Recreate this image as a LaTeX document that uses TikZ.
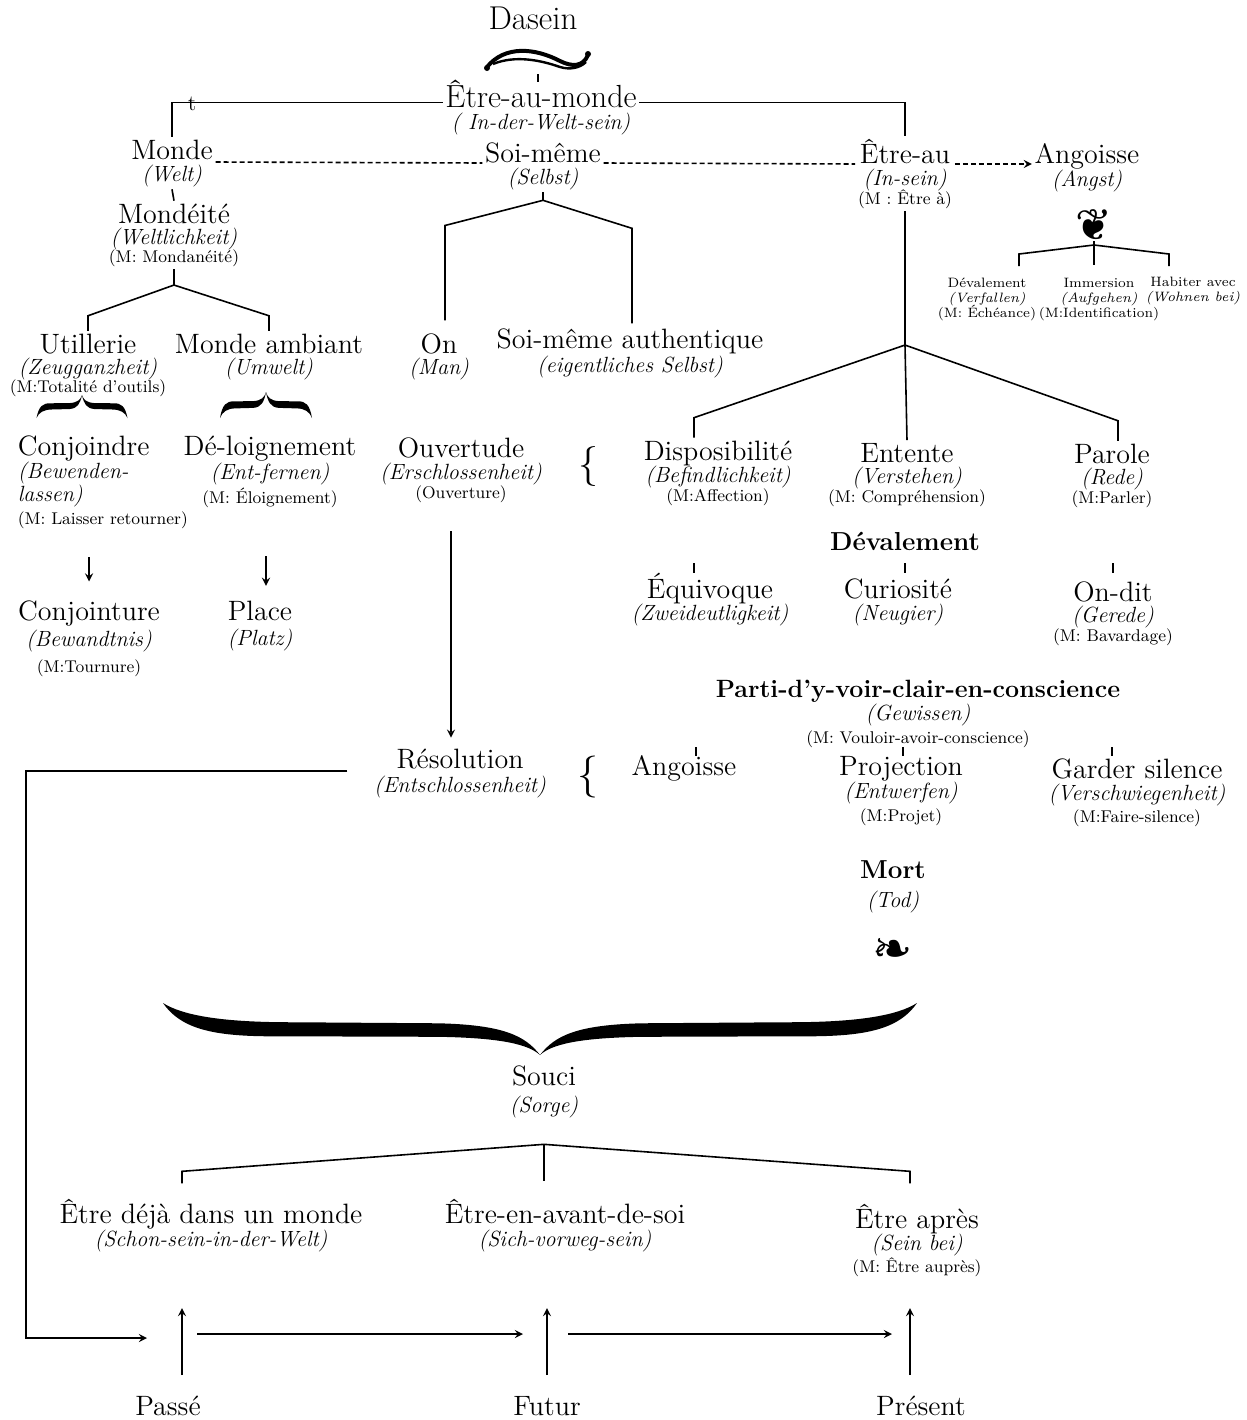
\documentclass[tikz,border=0pt]{standalone}
\usepackage{fontspec}
\newfontfamily\ornfont{DejaVu Sans}
\newcommand{\de}[1]{{\normalfont\fontsize{11}{11}\selectfont\itshape(#1)}}
\newcommand{\dex}[1]{{\normalfont\fontsize{11}{11}\selectfont\itshape #1}}
\newcommand{\mt}[1]{{\normalfont\fontsize{8.5}{8.5}\selectfont(#1)}}
\setlength{\lineskiplimit}{-20pt}
\tikzset{ornbrace/.pic={
  \fill (-1,0) .. controls (-0.95,0.52) and (-0.86,0.65) .. (-0.69,0.64) -- (-0.27,0.65) .. controls (-0.1,0.67) and (-0.03,0.8) .. (0,1) .. controls (-0.04,0.62) and (-0.1,0.42) .. (-0.27,0.39) -- (-0.66,0.37) .. controls (-0.85,0.37) and (-0.95,0.23) .. (-1,0) -- cycle;
  \fill (1,0) .. controls (0.95,0.52) and (0.86,0.65) .. (0.69,0.64) -- (0.27,0.65) .. controls (0.1,0.67) and (0.03,0.8) .. (0,1) .. controls (0.04,0.62) and (0.1,0.42) .. (0.27,0.39) -- (0.66,0.37) .. controls (0.85,0.37) and (0.95,0.23) .. (1,0) -- cycle;
}}

\begin{document}
\begin{tikzpicture}[x=0.5pt,y=-0.5pt,line width=0.8pt,
	every node/.style={inner sep=1pt},
	con/.style={align=center,anchor=base,font=\fontsize{14}{#1}\selectfont},
	con/.default=10,
	hd/.style={align=center,anchor=base,font=\bfseries\fontsize{13}{#1}\selectfont},
	hd/.default=11,
	sm/.style={align=center,anchor=base,font=\fontsize{6.8}{7.5}\selectfont},
	dashline/.style={dash pattern=on 2.5pt off 1.5pt}]
	\useasboundingbox (0,0) rectangle (1247,1420);

	\node[con,font=\fontsize{16.5}{16}\selectfont] (dasein) at (533,29) {Dasein};
	\draw[line width=2pt] (487,67) .. controls (505,45) and (535,48) .. (560,61) .. controls (572,67) and (583,67) .. (588,55);
	\draw[line width=1.2pt] (493,64) .. controls (515,55) and (540,60) .. (560,67) .. controls (570,70) and (580,68) .. (586,62);
	\fill (487,68) circle (3) (588,54) circle (3);
	\coordinate (sw) at (538,74);

	\node[con,font=\fontsize{16}{11}\selectfont] (iwm) at (541,129) {Être-au-monde\\\de{ In-der-Welt-sein}};
	\node[con,font=\fontsize{11}{11}\selectfont] (t) at (192,110) {t};
	\node[con=11] (monde) at (172,181) {Monde\\\de{Welt}};
	\node[con=11] (soi) at (543,184) {Soi-même\\\de{Selbst}};
	\node[con=11] (etreau) at (905,204) {Être-au\\\de{In-sein}\\[-1.5pt]\mt{M : Être à}};
	\node[con=11.5] (angoisse) at (1087,186) {Angoisse\\\de{Angst}};
	\node[con=10.5] (mondeite) at (174,262) {Mondéité\\\de{Weltlichkeit}\\[-1.5pt]\mt{M: Mondanéité}};

	\node[font=\ornfont\fontsize{22}{22}\selectfont,anchor=south,inner sep=0pt] (fleur) at (1094,241) {❦};
	\node[sm] (dev2) at (987,317) {Dévalement\\{\itshape(Verfallen)}\\(M: Échéance)};
	\node[sm] (imm) at (1099,317) {Immersion\\{\itshape(Aufgehen)}\\(M:Identification)};
	\node[sm] (habiter) at (1193,301) {Habiter avec\\{\itshape(Wohnen bei)}};

	\node[con=10.5] (utill) at (88,392) {Utillerie\\\de{Zeugganzheit}\\[-1.5pt]\mt{M:Totalité d’outils}};
	\node[con=10.5] (ambiant) at (269,374) {Monde ambiant\\\de{Umwelt}};
	\node[con=10.5] (on) at (439,374) {On\\\de{Man}};
	\node[con=12] (soiauth) at (630,372) {Soi-même authentique\\\de{eigentliches Selbst}};

	\node[con=11.5,align=left,anchor=base west] (conjoindre) at (15,524) {Conjoindre\\\dex{(Bewenden-}\\\dex{lassen)}\\\mt{M: Laisser retourner}};
	\node[con=12] (delo) at (270,503) {Dé-loignement\\\de{Ent-fernen}\\\mt{M: Éloignement}};
	\node[con=11] (ouv) at (461,498) {Ouvertude\\\de{Erschlossenheit}\\[-1.5pt]\mt{Ouverture}};
	\node[font=\fontsize{20}{20}\selectfont] (br1) at (588,466) {\{};
	\node[con=11] (disp) at (718,501) {Disposibilité\\\de{Befindlichkeit}\\[-1.5pt]\mt{M:Affection}};
	\node[con=10.5] (entente) at (907,502) {Entente\\\de{Verstehen}\\[-1pt]\mt{M: Compréhension}};
	\node[con=10.5] (parole) at (1112,503) {Parole\\\de{Rede}\\[-1pt]\mt{M:Parler}};

	\node[hd] (devb) at (905,550) {Dévalement};
	\node[con=11] (equi) at (710,620) {Équivoque\\\de{Zweideutligkeit}};
	\node[con=11] (curio) at (898,620) {Curiosité\\\de{Neugier}};
	\node[con=10.5] (ondit) at (1113,641) {On-dit\\\de{Gerede}\\[-1pt]\mt{M: Bavardage}};
	\node[con=13] (conjointure) at (89,672) {Conjointure\\\de{Bewandtnis}\\\mt{M:Tournure}};
	\node[con=12.5] (place) at (260,645) {Place\\\de{Platz}};

	\node[hd,font=\bfseries\fontsize{12.5}{11.5}\selectfont] (parti) at (918,743) {Parti-d’y-voir-clair-en-conscience\\\de{Gewissen}\\\mt{M: Vouloir-avoir-conscience}};
	\node[con=12] (resol) at (460,792) {Résolution\\\de{Entschlossenheit}};
	\node[font=\fontsize{21}{21}\selectfont] (br2) at (588,777) {\{};
	\node[con] (ang2) at (684,775) {Angoisse};
	\node[con=11.5] (proj) at (901,821) {Projection\\\de{Entwerfen}\\\mt{M:Projet}};
	\node[con=11] (garder) at (1137,822) {Garder silence\\\de{Verschwiegenheit}\\\mt{M:Faire-silence}};
	\node[hd=14.5] (mort) at (893,907) {Mort\\\de{Tod}};
	\node[font=\ornfont\fontsize{24}{24}\selectfont] (orn) at (893,952) {❧};

	\node[con=13.5] (souci) at (544,1112) {Souci\\\de{Sorge}};
	\node[con=11.5] (deja) at (211,1246) {Être déjà dans un monde\\\de{Schon-sein-in-der-Welt}};
	\node[con=11.5] (avant) at (565,1246) {Être-en-avant-de-soi\\\de{Sich-vorweg-sein}};
	\node[con=11] (apres) at (917,1272) {Être après\\\de{Sein bei}\\\mt{M: Être auprès}};
	\node[con] (passe) at (168,1415) {Passé};
	\node[con] (futur) at (547,1415) {Futur};
	\node[con] (present) at (921,1415) {Présent};

	\draw (sw) -- ++(0,8);
	\draw ([yshift=11pt]iwm.mid west) -| (monde.north);
	\draw ([yshift=11pt]iwm.mid east) -| (etreau.north);
	\draw[dashline] ([yshift=9.5pt]monde.base east) -- ([yshift=10.5pt]soi.base west);
	\draw[dashline] ([yshift=10.5pt]soi.base east) -- ([yshift=20pt]etreau.base west);
	\draw[dashline,-stealth] ([yshift=20pt]etreau.base east) -- ([yshift=11pt]angoisse.base west);
	\draw (monde.south) -- (mondeite.north);
	\draw (mondeite.south) -- ++(0,16) coordinate (mb);
	\draw (utill.north) -- ++(0,-15) -- (mb) -- ([yshift=7.5pt]ambiant.north) -- (ambiant.north);
	\draw (soi.south) -- ++(0,8) coordinate (sb);
	\draw ([xshift=3pt,yshift=5pt]on.north) -- ++(0,-95) -- (sb) -- ++(89,28) -- ++(0,95);
	\draw (etreau.south) -- ++(0,134) coordinate (eb) -- (entente.north);
	\draw ([xshift=-12pt]disp.north) -- ++(0,-20) -- (eb) -- ([xshift=3pt,yshift=10pt]parole.north) -- ([xshift=3pt]parole.north);
	\draw (fleur.south) -- ++(0,24);
	\draw ([yshift=-2pt]fleur.south) -- ++(-75,9) -- ++(0,12);
	\draw ([yshift=-2pt]fleur.south) -- ++(75,9) -- ++(0,12);

	\begin{scope}[shift={(82,418)},xscale=45.5,yscale=-23]
		\pic[transform shape] {ornbrace};
	\end{scope}
	\begin{scope}[shift={(266,418)},xscale=46,yscale=-26]
		\pic[transform shape] {ornbrace};
	\end{scope}
	\begin{scope}[shift={(540,1003)},xscale=377,yscale=52]
		\pic[transform shape] {ornbrace};
	\end{scope}

	\draw[-stealth,shorten <=13pt,shorten >=8pt] (conjoindre.south -| conjointure.north) -- (conjointure.north);
	\coordinate (dl) at ([xshift=-2pt]delo.south);
	\draw[-stealth,shorten <=23pt,shorten >=6pt] (dl) -- (dl |- place.north);
	\coordinate (ov) at ([xshift=-5pt]ouv.south);
	\draw[-stealth,shorten <=13pt,shorten >=4pt] (ov) -- (ov |- resol.north);

	\draw (694,563) -- ++(0,10) (905,563) -- ++(0,10) (1113,563) -- ++(0,10);
	\draw (696,747) -- ++(0,9) (903,747) -- ++(0,9) (1112,747) -- ++(0,9);

	\coordinate (sk) at ([yshift=-12pt]souci.south);
	\draw (sk) -- ++(0,37);
	\draw (sk) -- ++(-362,27) -- ++(0,12);
	\draw (sk) -- ++(366,27) -- ++(0,12);

	\coordinate (pa) at (182,1334);
	\coordinate (fu) at (547,1334);
	\coordinate (pr) at (910,1334);
	\draw[-stealth] ([xshift=-12pt,yshift=10.5pt]resol.base west) -- ++(-321,0) |- ([xshift=-17.5pt,yshift=-2pt]pa);
	\draw[-stealth] ([yshift=-20.5pt]pa) -- ([yshift=13pt]pa);
	\draw[-stealth] ([yshift=-20.5pt]fu) -- ([yshift=13pt]fu);
	\draw[-stealth] ([yshift=-20.5pt]pr) -- ([yshift=13pt]pr);
	\draw[-stealth,shorten <=7.5pt,shorten >=12pt] (pa) -- (fu);
	\draw[-stealth,shorten <=10.5pt,shorten >=9pt] (fu) -- (pr);
\end{tikzpicture}
\end{document}
